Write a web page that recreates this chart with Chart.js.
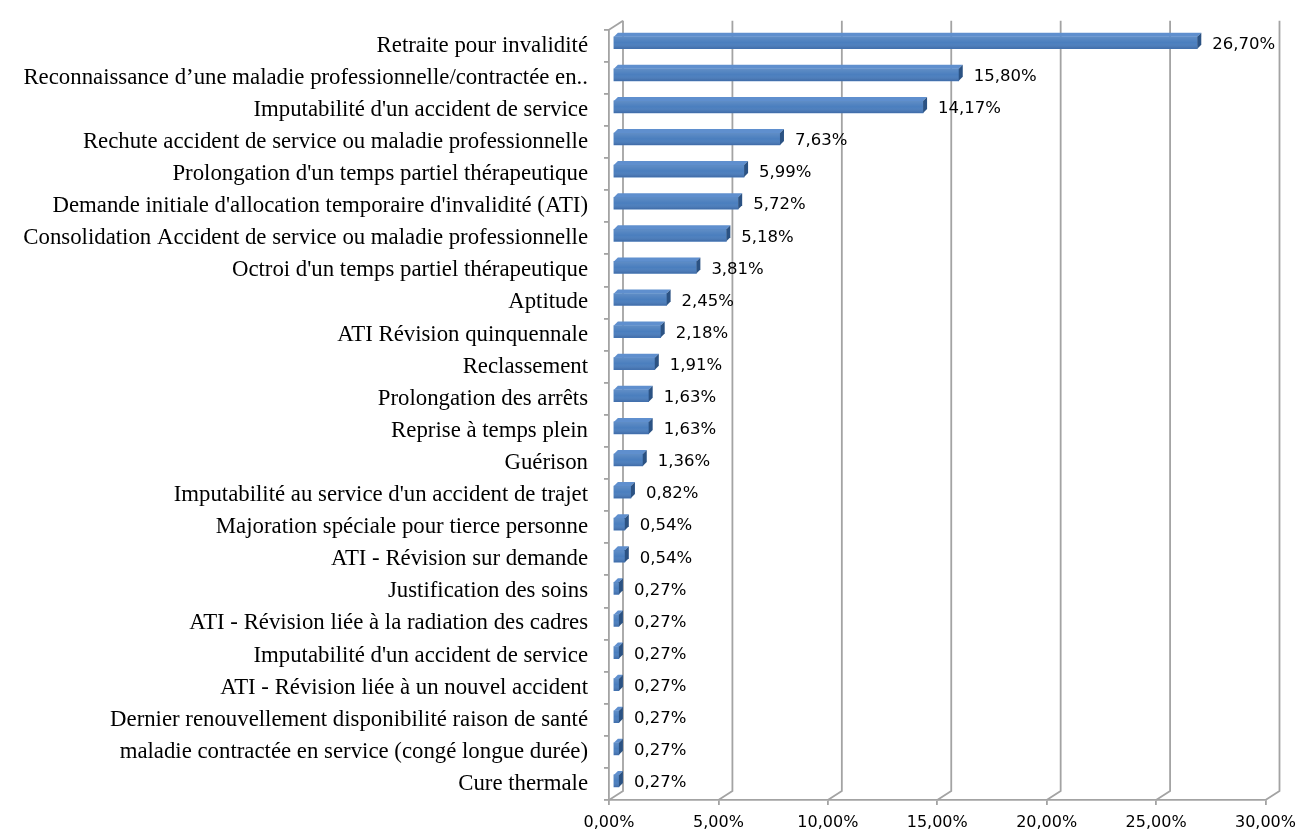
<!DOCTYPE html>
<html lang="fr">
<head>
<meta charset="utf-8">
<title>Motifs de saisine</title>
<script src="https://cdn.jsdelivr.net/npm/chart.js@4/dist/chart.umd.min.js"></script>
<style>
    html, body { margin: 0; padding: 0; background: #ffffff; }
    #motifsChart { display: block; }
</style>
</head>
<body>
<canvas id="motifsChart" width="1304" height="830"></canvas>
<script>
// Motifs, dans l'ordre d'affichage (du haut vers le bas)
const categories = [
    'Retraite pour invalidité',
    'Reconnaissance d’une maladie professionnelle/contractée en..',
    'Imputabilité d\'un accident de service',
    'Rechute accident de service ou maladie professionnelle',
    'Prolongation d\'un temps partiel thérapeutique',
    'Demande initiale d\'allocation temporaire d\'invalidité (ATI)',
    'Consolidation Accident de service ou maladie professionnelle',
    'Octroi d\'un temps partiel thérapeutique',
    'Aptitude',
    'ATI Révision quinquennale',
    'Reclassement',
    'Prolongation des arrêts',
    'Reprise à temps plein',
    'Guérison',
    'Imputabilité au service d\'un accident de trajet',
    'Majoration spéciale pour tierce personne',
    'ATI - Révision sur demande',
    'Justification des soins',
    'ATI - Révision liée à la radiation des cadres',
    'Imputabilité d\'un accident de service',
    'ATI - Révision liée à un nouvel accident',
    'Dernier renouvellement disponibilité raison de santé',
    'maladie contractée en service (congé longue durée)',
    'Cure thermale'
];

// Part de chaque motif (%)
const shares = [
    26.70, 15.80, 14.17, 7.63, 5.99, 5.72, 5.18, 3.81,
    2.45, 2.18, 1.91, 1.63, 1.63, 1.36, 0.82, 0.54,
    0.54, 0.27, 0.27, 0.27, 0.27, 0.27, 0.27, 0.27
];

// Graduations de l'axe horizontal (%)
const xTickValues = [0, 5, 10, 15, 20, 25, 30];

const WALL_DX = 14;   // profondeur du fond (effet 3D)
const WALL_DY = -9;
const BAR_DX = 4;     // epaisseur des barres
const BAR_DY = -4;
const BAR_SHIFT_X = 4;
const BAR_SHIFT_Y = -3;
const LINE_GREY = '#a3a3a3';

function formatPercent(v) {
    return v.toFixed(2).replace('.', ',') + '%';
}

// Fond en perspective + faces superieures/laterales des barres
const bars3d = {
    id: 'bars3d',
    beforeDatasetsDraw(chart) {
        const ctx = chart.ctx;
        const area = chart.chartArea;
        const xs = chart.scales.x;
        const backTop = area.top + WALL_DY;
        const backBottom = area.bottom + WALL_DY;

        ctx.save();
        ctx.strokeStyle = LINE_GREY;
        ctx.lineWidth = 1.8;
        xTickValues.forEach(v => {
            const px = xs.getPixelForValue(v);
            ctx.beginPath();
            ctx.moveTo(px + WALL_DX, backTop);
            ctx.lineTo(px + WALL_DX, backBottom);
            ctx.lineTo(px, area.bottom);
            ctx.stroke();
        });
        // arete haute du mur gauche
        ctx.beginPath();
        ctx.moveTo(area.left, area.top);
        ctx.lineTo(area.left + WALL_DX, backTop);
        ctx.stroke();
        ctx.restore();

        // les barres sont placees au milieu de la profondeur
        ctx.save();
        ctx.translate(BAR_SHIFT_X, BAR_SHIFT_Y);
    },
    afterDatasetsDraw(chart) {
        const ctx = chart.ctx;
        const meta = chart.getDatasetMeta(0);

        meta.data.forEach((bar, i) => {
            const p = bar.getProps(['x', 'y', 'base', 'height'], true);
            const top = p.y - p.height / 2;
            const bottom = p.y + p.height / 2;

            // leger degrade sur la face avant
            const grad = ctx.createLinearGradient(0, top, 0, bottom);
            grad.addColorStop(0, 'rgba(255,255,255,0.12)');
            grad.addColorStop(0.5, 'rgba(255,255,255,0)');
            grad.addColorStop(1, 'rgba(0,0,40,0.16)');
            ctx.fillStyle = grad;
            ctx.fillRect(p.base, top, p.x - p.base, p.height);

            // face superieure
            ctx.fillStyle = '#5f8fce';
            ctx.beginPath();
            ctx.moveTo(p.base, top);
            ctx.lineTo(p.x, top);
            ctx.lineTo(p.x + BAR_DX, top + BAR_DY);
            ctx.lineTo(p.base + BAR_DX, top + BAR_DY);
            ctx.closePath();
            ctx.fill();

            // face laterale
            ctx.fillStyle = '#2b5283';
            ctx.beginPath();
            ctx.moveTo(p.x, top);
            ctx.lineTo(p.x + BAR_DX, top + BAR_DY);
            ctx.lineTo(p.x + BAR_DX, bottom + BAR_DY);
            ctx.lineTo(p.x, bottom);
            ctx.closePath();
            ctx.fill();

            // etiquette de valeur
            ctx.fillStyle = '#000000';
            ctx.font = '16.5px "DejaVu Sans", Verdana, sans-serif';
            ctx.textAlign = 'left';
            ctx.textBaseline = 'middle';
            ctx.fillText(formatPercent(shares[i]), p.x + 15, p.y + 2);
        });

        ctx.restore();
    }
};

const ctx = document.getElementById('motifsChart');

new Chart(ctx, {
    type: 'bar',
    data: {
        labels: categories,
        datasets: [{
            label: 'Part des motifs',
            data: shares,
            backgroundColor: '#4a7ebe',
            borderWidth: 0,
            barThickness: 12
        }]
    },
    options: {
        indexAxis: 'y',
        responsive: false,
        animation: false,
        layout: {
            padding: { top: 27, right: 35, left: 0, bottom: 0 }
        },
        plugins: {
            legend: { display: false },
            tooltip: { enabled: false }
        },
        scales: {
            x: {
                min: 0,
                max: 30,
                afterFit: scale => { scale.height = 30; },
                afterBuildTicks: scale => {
                    scale.ticks = xTickValues.map(v => ({ value: v }));
                },
                grid: {
                    drawOnChartArea: false,
                    drawTicks: true,
                    tickLength: 5,
                    color: LINE_GREY,
                    lineWidth: 1.8
                },
                border: { color: LINE_GREY, width: 1.8 },
                ticks: {
                    autoSkip: false,
                    maxRotation: 0,
                    padding: 8,
                    color: '#000000',
                    font: { family: '"DejaVu Sans", Verdana, sans-serif', size: 16 },
                    callback: value => formatPercent(value)
                }
            },
            y: {
                afterFit: scale => { scale.width = 609; },
                grid: {
                    drawOnChartArea: false,
                    offset: true,
                    tickLength: 5,
                    color: LINE_GREY,
                    lineWidth: 1.8
                },
                border: { color: LINE_GREY, width: 1.8 },
                ticks: {
                    autoSkip: false,
                    padding: 16,
                    color: '#000000',
                    font: { family: '"Liberation Serif", "Times New Roman", serif', size: 22.8 }
                }
            }
        }
    },
    plugins: [bars3d]
});
</script>
</body>
</html>
